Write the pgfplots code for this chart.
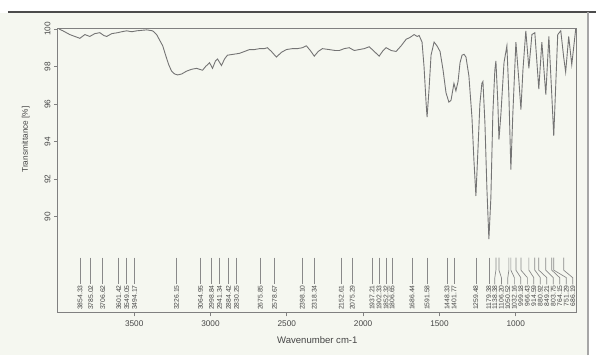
\documentclass[border=0pt]{standalone}
\usepackage{fontspec}
\setmainfont{Liberation Sans}
\usepackage{pgfplots}
\pgfplotsset{compat=1.18}
\definecolor{bgc}{HTML}{F5F7F0}
\definecolor{crv}{HTML}{747474}
\definecolor{axc}{HTML}{808080}
\definecolor{txc}{HTML}{454545}
\newcommand\pk[3]{\draw[crv!85,line width=0.7pt] (axis cs:#1,87.82) -- (axis cs:#1,87.15) -- (axis cs:#2,86.75) -- (axis cs:#2,86.39) node[rotate=90,anchor=east,inner sep=0.6pt,font=\fontsize{6.8}{7}\selectfont,text=txc]{#3};}
\begin{document}
\begin{tikzpicture}[x=1bp,y=1bp]
\fill[white] (0,0) rectangle (597,356);
\fill[bgc] (0,0) rectangle (588,343);
\draw[black!70,line width=2.5pt] (8,344) -- (597,344);
\draw[black!35,line width=1.5pt] (589,0) -- (589,344);
\path[use as bounding box] (0,0) rectangle (597,356);
\begin{axis}[
  at={(58bp,43bp)}, anchor=south west, scale only axis,
  width=520bp, height=284bp,
  xmin=600, xmax=4000, x dir=reverse,
  ymin=84.9, ymax=100,
  axis line style={axc, line width=0.9pt},
  tick style={axc, line width=0.8pt},
  tick align=outside, major tick length=4bp,
  xtick={1000,1500,...,3500}, ytick={90,92,...,100},
  xtick pos=bottom, ytick pos=left,
  /pgf/number format/assume math mode=true,
  /pgf/number format/set thousands separator={},
  ticklabel style={font=\fontsize{8.3}{9}\selectfont, text=txc},
  yticklabel style={rotate=90, anchor=south},
  xticklabel style={yshift=-1bp},
  xlabel={Wavenumber cm-1},
  ylabel={Transmittance [\%]},
  every axis x label/.style={at={(axis description cs:0.5,0)}, yshift=-28bp, anchor=center, font=\fontsize{9.6}{11}\selectfont, text=txc},
  every axis y label/.style={at={(axis description cs:-0.062,0.61)}, rotate=90, anchor=center, font=\fontsize{8.3}{9}\selectfont, text=txc},
  clip=false,
]
\addplot[crv, line width=0.9pt] table {
3993 100.0
3967 99.9
3922 99.7
3889 99.6
3856 99.5
3823 99.7
3791 99.6
3758 99.75
3725 99.8
3699 99.65
3680 99.6
3647 99.75
3608 99.8
3582 99.85
3549 99.9
3516 99.85
3483 99.9
3418 99.95
3379 99.9
3353 99.7
3333 99.4
3313 99.1
3294 98.6
3274 98.1
3255 97.75
3235 97.6
3215 97.55
3189 97.6
3157 97.75
3124 97.85
3091 97.9
3072 97.85
3052 97.8
3032 98.0
3006 98.2
2987 97.9
2967 98.3
2954 98.4
2928 98.05
2908 98.4
2889 98.6
2849 98.65
2810 98.7
2777 98.8
2745 98.9
2712 98.9
2679 98.95
2647 98.95
2627 99.0
2601 98.8
2568 98.5
2536 98.75
2503 98.9
2464 98.95
2431 98.95
2398 99.0
2372 99.1
2346 98.85
2320 98.55
2294 98.8
2267 98.95
2222 98.9
2182 98.85
2156 98.85
2124 98.95
2091 99.0
2058 98.85
2026 98.9
1993 98.95
1960 99.05
1927 98.8
1895 98.55
1869 98.85
1849 99.0
1816 98.85
1784 98.8
1751 99.1
1718 99.45
1692 99.55
1666 99.7
1646 99.6
1633 99.65
1614 99.3
1601 98.0
1587 96.0
1581 95.3
1568 96.8
1555 98.6
1535 99.3
1516 99.1
1496 98.8
1476 97.8
1457 96.6
1438 96.1
1424 96.2
1405 97.1
1392 96.7
1378 97.2
1365 98.2
1352 98.6
1339 98.65
1326 98.5
1307 97.5
1287 95.3
1274 93.0
1261 91.1
1248 93.5
1235 96.0
1222 97.1
1215 97.2
1202 95.0
1189 91.5
1176 88.8
1163 91.0
1150 95.5
1137 97.8
1130 98.3
1117 96.0
1110 94.1
1097 95.5
1077 98.2
1058 99.1
1045 96.5
1032 92.5
1019 95.5
999 99.3
979 97.2
966 95.7
953 97.8
934 99.9
914 97.9
894 99.7
875 99.8
849 96.8
829 99.3
803 96.5
783 99.6
764 96.5
751 94.3
738 97.0
725 99.7
705 99.9
686 98.5
673 97.7
653 99.6
633 98.1
607 100.0
};
\pk{3854}{3854}{3854.33}
\pk{3784}{3784}{3785.02}
\pk{3706}{3706}{3706.62}
\pk{3601}{3601}{3601.42}
\pk{3549}{3549}{3549.05}
\pk{3497}{3497}{3494.17}
\pk{3222}{3222}{3226.15}
\pk{3065}{3065}{3064.95}
\pk{2993}{2993}{2998.84}
\pk{2941}{2941}{2941.34}
\pk{2882}{2882}{2884.42}
\pk{2830}{2830}{2830.25}
\pk{2673}{2673}{2675.85}
\pk{2581}{2581}{2578.67}
\pk{2398}{2398}{2398.10}
\pk{2320}{2320}{2318.34}
\pk{2143}{2143}{2152.61}
\pk{2071}{2071}{2075.29}
\pk{1941}{1941}{1937.21}
\pk{1895}{1895}{1902.33}
\pk{1849}{1849}{1852.32}
\pk{1810}{1810}{1806.65}
\pk{1679}{1679}{1686.44}
\pk{1581}{1581}{1591.58}
\pk{1450}{1450}{1448.33}
\pk{1404}{1404}{1401.77}
\pk{1261}{1261}{1259.48}
\pk{1176}{1176}{1179.38}
\pk{1130}{1137}{1138.38}
\pk{1110}{1094}{1106.20}
\pk{1045}{1052}{1050.52}
\pk{1032}{1009}{1032.16}
\pk{999}{967}{999.18}
\pk{966}{924}{966.43}
\pk{914}{882}{914.59}
\pk{875}{839}{880.92}
\pk{849}{797}{849.21}
\pk{803}{754}{803.75}
\pk{764}{712}{764.15}
\pk{751}{669}{751.29}
\pk{686}{627}{686.19}
\end{axis}
\end{tikzpicture}
\end{document}
